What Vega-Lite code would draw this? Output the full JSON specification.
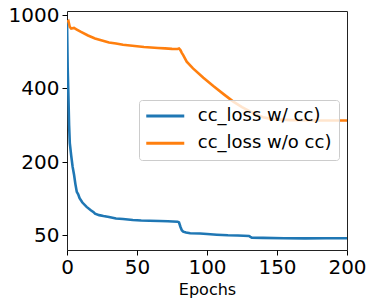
{
  "$schema": "https://vega.github.io/schema/vega-lite/v6.json",
  "width": 280,
  "height": 239,
  "autosize": "none",
  "padding": {"left": 67, "top": 11, "right": 27, "bottom": 53},
  "config": {"view": {"stroke": "#222", "strokeWidth": 1}, "font": "DejaVu Sans"},
  "data": {"values": [
    {"series": "cc_loss w/ cc)", "epoch": 0, "loss": 959},
    {"series": "cc_loss w/ cc)", "epoch": 0.5, "loss": 560},
    {"series": "cc_loss w/ cc)", "epoch": 1, "loss": 380},
    {"series": "cc_loss w/ cc)", "epoch": 1.5, "loss": 300},
    {"series": "cc_loss w/ cc)", "epoch": 2, "loss": 252},
    {"series": "cc_loss w/ cc)", "epoch": 3, "loss": 218},
    {"series": "cc_loss w/ cc)", "epoch": 4, "loss": 191},
    {"series": "cc_loss w/ cc)", "epoch": 5, "loss": 175},
    {"series": "cc_loss w/ cc)", "epoch": 6, "loss": 155},
    {"series": "cc_loss w/ cc)", "epoch": 7, "loss": 139},
    {"series": "cc_loss w/ cc)", "epoch": 8, "loss": 134},
    {"series": "cc_loss w/ cc)", "epoch": 9, "loss": 126},
    {"series": "cc_loss w/ cc)", "epoch": 11, "loss": 117},
    {"series": "cc_loss w/ cc)", "epoch": 14, "loss": 108},
    {"series": "cc_loss w/ cc)", "epoch": 17, "loss": 101},
    {"series": "cc_loss w/ cc)", "epoch": 19, "loss": 97},
    {"series": "cc_loss w/ cc)", "epoch": 20, "loss": 94},
    {"series": "cc_loss w/ cc)", "epoch": 23, "loss": 91},
    {"series": "cc_loss w/ cc)", "epoch": 26, "loss": 89},
    {"series": "cc_loss w/ cc)", "epoch": 30, "loss": 87},
    {"series": "cc_loss w/ cc)", "epoch": 35, "loss": 84},
    {"series": "cc_loss w/ cc)", "epoch": 40, "loss": 83},
    {"series": "cc_loss w/ cc)", "epoch": 47, "loss": 81},
    {"series": "cc_loss w/ cc)", "epoch": 53, "loss": 80},
    {"series": "cc_loss w/ cc)", "epoch": 59, "loss": 79.5},
    {"series": "cc_loss w/ cc)", "epoch": 66, "loss": 79},
    {"series": "cc_loss w/ cc)", "epoch": 72, "loss": 78.5},
    {"series": "cc_loss w/ cc)", "epoch": 79, "loss": 77.5},
    {"series": "cc_loss w/ cc)", "epoch": 80, "loss": 76},
    {"series": "cc_loss w/ cc)", "epoch": 81, "loss": 67},
    {"series": "cc_loss w/ cc)", "epoch": 82, "loss": 60},
    {"series": "cc_loss w/ cc)", "epoch": 83, "loss": 57},
    {"series": "cc_loss w/ cc)", "epoch": 85, "loss": 55},
    {"series": "cc_loss w/ cc)", "epoch": 88, "loss": 53.5},
    {"series": "cc_loss w/ cc)", "epoch": 95, "loss": 53},
    {"series": "cc_loss w/ cc)", "epoch": 100, "loss": 52},
    {"series": "cc_loss w/ cc)", "epoch": 107, "loss": 50.6},
    {"series": "cc_loss w/ cc)", "epoch": 115, "loss": 49.5},
    {"series": "cc_loss w/ cc)", "epoch": 122, "loss": 49},
    {"series": "cc_loss w/ cc)", "epoch": 130, "loss": 48},
    {"series": "cc_loss w/ cc)", "epoch": 131, "loss": 46},
    {"series": "cc_loss w/ cc)", "epoch": 132, "loss": 44.5},
    {"series": "cc_loss w/ cc)", "epoch": 140, "loss": 44},
    {"series": "cc_loss w/ cc)", "epoch": 155, "loss": 43.2},
    {"series": "cc_loss w/ cc)", "epoch": 170, "loss": 43},
    {"series": "cc_loss w/ cc)", "epoch": 185, "loss": 43.2},
    {"series": "cc_loss w/ cc)", "epoch": 200, "loss": 43.2},
    {"series": "cc_loss w/o cc)", "epoch": 0, "loss": 943},
    {"series": "cc_loss w/o cc)", "epoch": 1, "loss": 951},
    {"series": "cc_loss w/o cc)", "epoch": 2, "loss": 902},
    {"series": "cc_loss w/o cc)", "epoch": 3, "loss": 889},
    {"series": "cc_loss w/o cc)", "epoch": 5, "loss": 894},
    {"series": "cc_loss w/o cc)", "epoch": 7, "loss": 881},
    {"series": "cc_loss w/o cc)", "epoch": 10, "loss": 861},
    {"series": "cc_loss w/o cc)", "epoch": 15, "loss": 832},
    {"series": "cc_loss w/o cc)", "epoch": 20, "loss": 808},
    {"series": "cc_loss w/o cc)", "epoch": 25, "loss": 791},
    {"series": "cc_loss w/o cc)", "epoch": 30, "loss": 775},
    {"series": "cc_loss w/o cc)", "epoch": 35, "loss": 767},
    {"series": "cc_loss w/o cc)", "epoch": 40, "loss": 756},
    {"series": "cc_loss w/o cc)", "epoch": 45, "loss": 750},
    {"series": "cc_loss w/o cc)", "epoch": 50, "loss": 744},
    {"series": "cc_loss w/o cc)", "epoch": 55, "loss": 738},
    {"series": "cc_loss w/o cc)", "epoch": 60, "loss": 734},
    {"series": "cc_loss w/o cc)", "epoch": 65, "loss": 730},
    {"series": "cc_loss w/o cc)", "epoch": 70, "loss": 727},
    {"series": "cc_loss w/o cc)", "epoch": 75, "loss": 723},
    {"series": "cc_loss w/o cc)", "epoch": 79, "loss": 722},
    {"series": "cc_loss w/o cc)", "epoch": 80, "loss": 726},
    {"series": "cc_loss w/o cc)", "epoch": 81, "loss": 713},
    {"series": "cc_loss w/o cc)", "epoch": 82, "loss": 690},
    {"series": "cc_loss w/o cc)", "epoch": 83, "loss": 672},
    {"series": "cc_loss w/o cc)", "epoch": 85.5, "loss": 618},
    {"series": "cc_loss w/o cc)", "epoch": 90, "loss": 563},
    {"series": "cc_loss w/o cc)", "epoch": 97.4, "loss": 486},
    {"series": "cc_loss w/o cc)", "epoch": 104.5, "loss": 418},
    {"series": "cc_loss w/o cc)", "epoch": 111.6, "loss": 385},
    {"series": "cc_loss w/o cc)", "epoch": 118.8, "loss": 364},
    {"series": "cc_loss w/o cc)", "epoch": 125, "loss": 349},
    {"series": "cc_loss w/o cc)", "epoch": 130, "loss": 339},
    {"series": "cc_loss w/o cc)", "epoch": 135, "loss": 329},
    {"series": "cc_loss w/o cc)", "epoch": 140, "loss": 322},
    {"series": "cc_loss w/o cc)", "epoch": 145, "loss": 318},
    {"series": "cc_loss w/o cc)", "epoch": 150, "loss": 316},
    {"series": "cc_loss w/o cc)", "epoch": 160, "loss": 314},
    {"series": "cc_loss w/o cc)", "epoch": 170, "loss": 314},
    {"series": "cc_loss w/o cc)", "epoch": 180, "loss": 313},
    {"series": "cc_loss w/o cc)", "epoch": 190, "loss": 313},
    {"series": "cc_loss w/o cc)", "epoch": 200, "loss": 313}
  ]},
  "mark": {"type": "line", "strokeWidth": 2.6, "clip": true},
  "encoding": {
    "x": {
      "field": "epoch", "type": "quantitative",
      "scale": {"domain": [0, 200], "nice": false},
      "axis": {"values": [0, 50, 100, 150, 200], "title": "Epochs", "grid": false, "domain": false,
        "labelFontSize": 20, "titleFontSize": 16, "titleFontWeight": "normal",
        "tickSize": 5, "tickColor": "#000", "labelColor": "#000", "titleColor": "#000",
        "labelPadding": 2, "titlePadding": 4, "labelFlush": false, "labelOverlap": false}
    },
    "y": {
      "field": "loss", "type": "quantitative",
      "scale": {"domain": [19, 50, 200, 400, 1000, 1033], "range": [239, 224, 151.3, 77.3, 4, 0], "zero": false, "nice": false},
      "axis": {"values": [50, 200, 400, 1000], "format": "d", "title": null, "grid": false, "domain": false,
        "labelFontSize": 20, "tickSize": 5, "tickColor": "#000", "labelColor": "#000",
        "labelPadding": 3, "labelOverlap": false}
    },
    "color": {
      "field": "series", "type": "nominal",
      "scale": {"domain": ["cc_loss w/ cc)", "cc_loss w/o cc)"], "range": ["#1f77b4", "#ff7f0e"]},
      "legend": {"title": null, "orient": "none", "legendX": 72, "legendY": 89,
        "labelFontSize": 18, "labelColor": "#000", "labelLimit": 300,
        "symbolType": "M-1.84,0H6.16", "symbolSize": 90.25, "symbolStrokeWidth": 3,
        "fillColor": "rgba(255,255,255,0.8)", "strokeColor": "#cccccc", "cornerRadius": 3,
        "padding": 7, "rowPadding": 9.3, "labelOffset": 33.8}
    }
  }
}
